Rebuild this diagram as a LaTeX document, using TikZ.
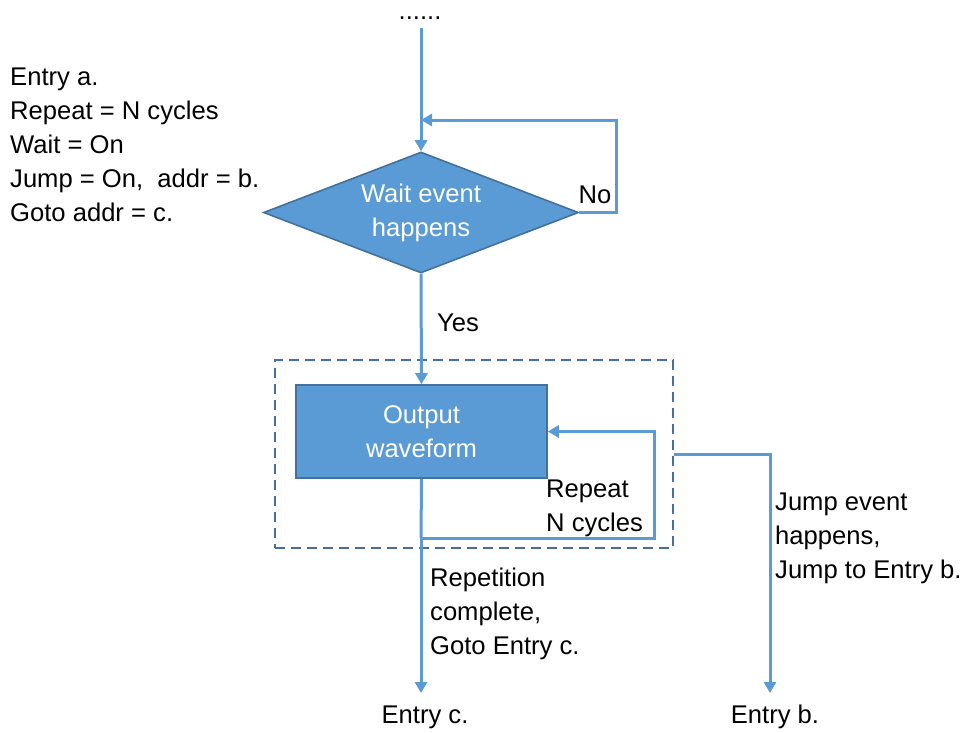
\documentclass[tikz,border=0pt]{standalone}
\usepackage{fontspec}
\setmainfont{Liberation Sans}
\usetikzlibrary{shapes.geometric,arrows.meta,calc}
\definecolor{lineblue}{HTML}{5B9BD5}
\definecolor{fillblue}{HTML}{5B9BD5}
\definecolor{edgeblue}{HTML}{41719C}
\begin{document}
\begin{tikzpicture}[x=1pt,y=-1pt,
  txt/.style={font=\fontsize{25.6}{34}\selectfont, inner sep=0pt, align=left, text=black},
  arr/.style={draw=lineblue, line width=3pt, -{Triangle[length=11pt,width=12pt]}},
  ln/.style={draw=lineblue, line width=3pt},
  decision/.style={diamond, draw=edgeblue, line width=1.6pt, fill=fillblue, aspect=2.6,
    minimum width=315pt, minimum height=121pt, inner sep=0pt, text=white, align=center,
    font=\fontsize{25.6}{34}\selectfont},
  procbox/.style={rectangle, draw=edgeblue, line width=1.6pt, fill=fillblue,
    minimum width=251pt, minimum height=93pt, inner sep=0pt, text=white, align=center,
    font=\fontsize{25.6}{34}\selectfont},
  groupbox/.style={rectangle, draw=edgeblue, line width=1.8pt, dash pattern=on 10pt off 6pt,
    minimum width=398pt, minimum height=188pt, inner sep=0pt}
]
\useasboundingbox (0,0) rectangle (969,732);

% dashed group
\node[groupbox] (grp) at (474,454) {};

% nodes
\node[txt, anchor=base] (dots) at (420,19) {......};
\node[decision] (dia) at (421,212.5) {Wait event\\happens};
\node[procbox] (box) at (421.5,431.5) {Output\\waveform};

\node[txt, anchor=west] (info) at (10,145) {Entry a.\\Repeat = N cycles\\Wait = On\\Jump = On,~ addr = b.\\Goto addr = c.};
\node[txt] (no) at (595,195) {No};
\node[txt] (yes) at (458,323) {Yes};
\node[txt, anchor=west] (rep) at (546,508) {Repeat\\N cycles};
\node[txt, anchor=west] (repc) at (430,614) {Repetition\\complete,\\Goto Entry c.};
\node[txt, anchor=west] (jmp) at (775,538) {Jump event\\happens,\\Jump to Entry b.};
\node[txt] (entc) at (425,717) {Entry c.};
\node[txt] (entb) at (775,717) {Entry b.};

% coordinates
\coordinate (start) at (421,28);
\coordinate (join) at (421,120);
\coordinate (rb) at (421,538);
\coordinate (ce) at (421,693);
\coordinate (be) at (770,693);

% connectors
\draw[arr] (start) -- (dia.north);
\draw[arr] (dia.east) -- ++(37,0) |- (join);
\draw[arr] (dia.south) -- (box.north);
\draw[ln] (box.south) -- (rb);
\draw[arr] (rb) -| (654,431.5) -- (box.east);
\draw[arr] (rb) -- (ce);
\draw[arr] (grp.east) -- (be |- grp.east) -- (be);
\end{tikzpicture}
\end{document}
